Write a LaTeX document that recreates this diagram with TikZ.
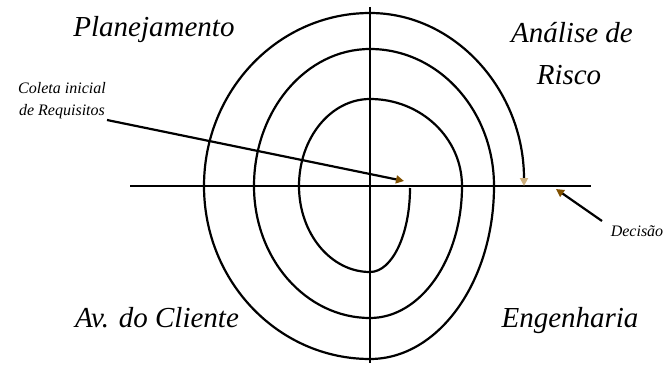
\documentclass[tikz,border=0pt]{standalone}
\usepackage{fontspec}
\setmainfont{Liberation Serif}
\usetikzlibrary{arrows.meta}
\definecolor{arrbrown}{RGB}{128,80,0}
\definecolor{arrtan}{RGB}{205,175,125}
\begin{document}
\begin{tikzpicture}[x=1pt,y=1pt,
  axis/.style={line width=1.2pt},
  spiral/.style={line width=2.2pt},
  pointer/.style={line width=2.2pt,-{Triangle[length=8pt,width=8pt,color=arrbrown]}},
  big/.style={font=\fontsize{29}{32}\selectfont\itshape,inner sep=0pt},
  small/.style={font=\fontsize{16}{18}\selectfont\itshape,inner sep=0pt}]
\useasboundingbox (0,0) rectangle (669,365);
% axes
\coordinate (hl) at (130,179);
\coordinate (hr) at (591,179);
\coordinate (vt) at (370,358);
\coordinate (vb) at (370,2);
\draw[axis] (hl) -- (hr);
\draw[axis] (vt) -- (vb);
% spiral
\coordinate (s0) at (410,177);
\draw[spiral,-{Triangle[length=8pt,width=8pt,color=arrtan]}] (s0)
  arc[start angle=0,end angle=-90,x radius=40,y radius=84]
  arc[start angle=-90,end angle=-180,x radius=71,y radius=86]
  arc[start angle=180,end angle=90,x radius=71,y radius=87]
  arc[start angle=90,end angle=0,x radius=92,y radius=87]
  arc[start angle=0,end angle=-90,x radius=92,y radius=132]
  arc[start angle=-90,end angle=-180,x radius=116,y radius=132]
  arc[start angle=180,end angle=90,x radius=116,y radius=137]
  arc[start angle=90,end angle=0,x radius=124,y radius=137]
  arc[start angle=0,end angle=-90,x radius=124,y radius=173]
  arc[start angle=-90,end angle=-180,x radius=166,y radius=173]
  arc[start angle=180,end angle=90,x radius=166,y radius=173]
  arc[start angle=90,end angle=0,x radius=154,y radius=173];
% labels
\node[big,anchor=base] (plan) at (154,328) {Planejamento};
\node[big,anchor=base] (anal) at (572,322) {Análise de};
\node[big,anchor=base] (risco) at (569,280) {Risco};
\node[big,anchor=base] (aval) at (157,38) {Av. do Cliente};
\node[big,anchor=base] (eng) at (570,38) {Engenharia};
\node[small,anchor=base] (col1) at (62,272) {Coleta inicial};
\node[small,anchor=base] (col2) at (62,250) {de Requisitos};
\node[small,anchor=base] (dec) at (637,129) {Decisão};
% pointers
\coordinate (cstart) at (107,245);
\coordinate (ctip) at (404,184);
\coordinate (dstart) at (602,144);
\coordinate (dtip) at (556,176);
\draw[pointer] (cstart) -- (ctip);
\draw[pointer] (dstart) -- (dtip);
\end{tikzpicture}
\end{document}
